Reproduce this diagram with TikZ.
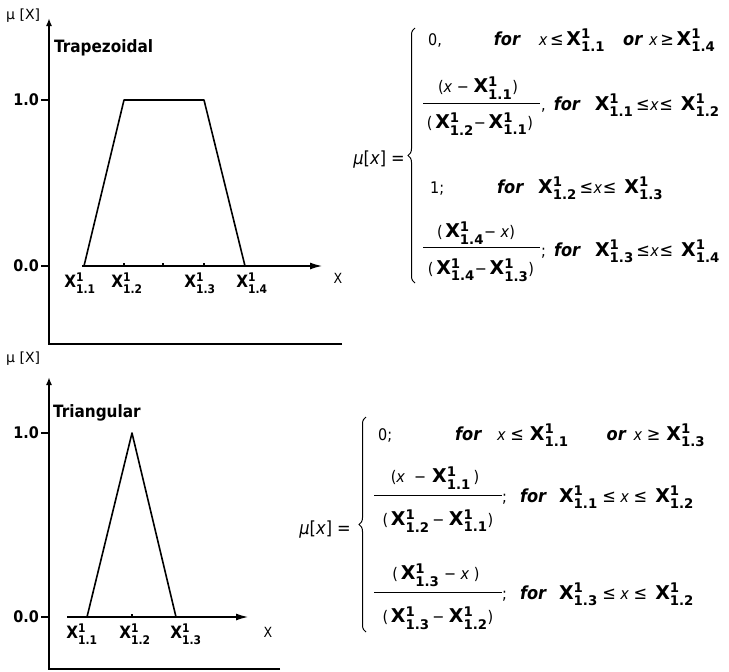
\documentclass[tikz,border=0pt]{standalone}
\usepackage{amsmath}
\usepackage{fontspec}
\setmainfont{DejaVu Sans Condensed}
\newfontfamily\wide{DejaVu Sans}
\usetikzlibrary{arrows.meta,decorations.pathreplacing}

% X^1_{1.k} under the axis (\Xs) and in the formulas (\Xf)
\newcommand{\Xs}[1]{{\fontsize{17}{20}\selectfont\textbf{X}$^{\textbf{1}}_{\textbf{#1}}$}}
\newcommand{\Xf}[1]{{\fontsize{19}{22}\selectfont\wide\textbf{X}$^{\textbf{1}}_{\textbf{#1}}$}}
\newcommand{\fr}{{\fontsize{18}{20}\selectfont\textbf{\textit{for}}}}
\newcommand{\orw}{{\fontsize{18}{20}\selectfont\textbf{\textit{or}}}}
\newcommand{\ix}{\textit{x}}
\newcommand{\lte}{{\fontsize{18}{20}\selectfont ≤}}
\newcommand{\gte}{{\fontsize{18}{20}\selectfont ≥}}

\begin{document}
\begin{tikzpicture}[x=1pt,y=-1pt,
  frame/.style={line width=2pt,-{Latex[length=8pt,width=6pt]}},
  xaxis/.style={line width=1.2pt,-{Latex[length=12pt,width=7pt]}},
  memb/.style={line width=1.6pt,line join=round},
  tick/.style={line width=1.2pt},
  title/.style={font=\fontsize{17}{20}\selectfont\bfseries,inner sep=0pt},
  val/.style={font=\fontsize{16}{18}\selectfont\bfseries,inner sep=0pt},
  ylab/.style={font=\fontsize{14}{16}\selectfont\wide,inner sep=0pt},
  xlab/.style={font=\fontsize{14}{16}\selectfont,inner sep=0pt},
  xsub/.style={inner sep=0pt},
  eq/.style={font=\fontsize{16}{18}\selectfont,inner sep=0pt},
  mu/.style={font=\fontsize{18}{20}\selectfont,inner sep=0pt,anchor=east},
  bar/.style={line width=1pt},
  cbrace/.style={line width=1pt,decorate,decoration={brace,amplitude=7pt}}]

\useasboundingbox (0,0) rectangle (729,672);

% ---------------- Trapezoidal ----------------
% Axis
\draw[frame] (342,344) -- (49,344) -- (49,18);
\draw[xaxis] (82,266) -- (322,266);
\draw[tick] (41,100) -- (49,100);
\draw[tick] (41,266) -- (49,266);
\draw[tick] (124,263) -- (124,266);
\draw[tick] (163,263) -- (163,266);
\draw[tick] (204,263) -- (204,266);

\node[ylab,anchor=west] (muT) at (6,16) {μ [X]};
\node[title,anchor=west] (trap) at (54,48) {Trapezoidal};
\node[val,anchor=east] (oneT) at (39,100) {1.0};
\node[val,anchor=east] (zeroT) at (39,266) {0.0};
\node[xlab] (xT) at (338,278) {X};

% Membership function
\coordinate (t1) at (84,266);
\coordinate (t2) at (124,100);
\coordinate (t3) at (204,100);
\coordinate (t4) at (245,266);
\draw[memb] (t1) -- (t2) -- (t3) -- (t4);
\draw[line width=2.4pt] (t2) -- (t3);

\node[xsub] (ta) at (80,283) {\Xs{1.1}};
\node[xsub] (tb) at (127,283) {\Xs{1.2}};
\node[xsub] (tc) at (200,283) {\Xs{1.3}};
\node[xsub] (td) at (252,283) {\Xs{1.4}};

% Formula
\node[mu] (muxT) at (405,160) {\textit{μ}[\ix] =};
\draw[cbrace] (415,283) -- (415,28);

\node[eq,anchor=base west] (tr1) at (428,45)
  {0,\hspace{52pt}\fr\hspace{18pt}\ix\,\lte\,\Xf{1.1}\hspace{18pt}\orw\hspace{6pt}\ix\,\gte\,\Xf{1.4}};

\node[eq] (tn2) at (478,88) {(\ix\ − \Xf{1.1})};
\node[eq] (td2) at (480,124) {(\,\Xf{1.2}−\,\Xf{1.1})};
\draw[bar] (423,103) -- (540,103);
\node[eq,anchor=base west] (tf2) at (541,110)
  {,\hspace{8pt}\fr\hspace{14pt}\Xf{1.1}\,\lte\kern.5pt\ix\kern.5pt\lte\hspace{8pt}\Xf{1.2}};

\node[eq,anchor=base west] (tr3) at (430,193)
  {1;\hspace{53pt}\fr\hspace{14pt}\Xf{1.2}\,\lte\kern.5pt\ix\kern.5pt\lte\hspace{8pt}\Xf{1.3}};

\node[eq] (tn4) at (476,233) {(\,\Xf{1.4}−\ \ix)};
\node[eq] (td4) at (481,270) {(\,\Xf{1.4}−\,\Xf{1.3})};
\draw[bar] (423,247) -- (540,247);
\node[eq,anchor=base west] (tf4) at (541,256)
  {;\hspace{8pt}\fr\hspace{14pt}\Xf{1.3}\,\lte\kern.5pt\ix\kern.5pt\lte\hspace{8pt}\Xf{1.4}};

% ---------------- Triangular ----------------
% Axis
\draw[frame] (280,669) -- (49,669) -- (49,377);
\draw[xaxis] (67,617) -- (248,617);
\draw[tick] (41,433) -- (49,433);
\draw[tick] (41,617) -- (49,617);
\draw[tick] (132,614) -- (132,617);

\node[ylab,anchor=west] (muB) at (6,359) {μ [X]};
\node[title,anchor=west] (tri) at (53,413) {Triangular};
\node[val,anchor=east] (oneB) at (39,433) {1.0};
\node[val,anchor=east] (zeroB) at (39,617) {0.0};
\node[xlab] (xB) at (268,632) {X};

% Membership function
\coordinate (r1) at (87,617);
\coordinate (r2) at (132,433);
\coordinate (r3) at (176,617);
\draw[memb] (r1) -- (r2) -- (r3);

\node[xsub] (ra) at (82,634) {\Xs{1.1}};
\node[xsub] (rb) at (135,634) {\Xs{1.2}};
\node[xsub] (rc) at (186,634) {\Xs{1.3}};

% Formula
\node[mu] (muxB) at (351,530) {\textit{μ}[\ix] =};
\draw[cbrace] (366,632) -- (366,417);

\node[eq,anchor=base west] (br1) at (378,440)
  {0;\hspace{63pt}\fr\hspace{15pt}\ix\ \lte\hspace{6pt}\Xf{1.1}\hspace{38pt}\orw\hspace{7pt}\ix\ \gte\hspace{6pt}\Xf{1.3}};

\node[eq] (bn2) at (435,478) {(\ix\hspace{9pt}−\hspace{6pt}\Xf{1.1}\,)};
\node[eq] (bd2) at (438,521) {(\,\Xf{1.2}\,−\ \Xf{1.1})};
\draw[bar] (374,495) -- (502,495);
\node[eq,anchor=base west] (bf2) at (502,502)
  {;\hspace{13pt}\fr\hspace{12pt}\Xf{1.1}\ \lte\ \ix\ \lte\hspace{8pt}\Xf{1.2}};

\node[eq] (bn3) at (436,575) {(\,\Xf{1.3}\ −\ \ix\ )};
\node[eq] (bd3) at (438,618) {(\,\Xf{1.3}\,−\ \Xf{1.2})};
\draw[bar] (374,592) -- (502,592);
\node[eq,anchor=base west] (bf3) at (502,599)
  {;\hspace{13pt}\fr\hspace{12pt}\Xf{1.3}\ \lte\ \ix\ \lte\hspace{8pt}\Xf{1.2}};

\end{tikzpicture}
\end{document}
